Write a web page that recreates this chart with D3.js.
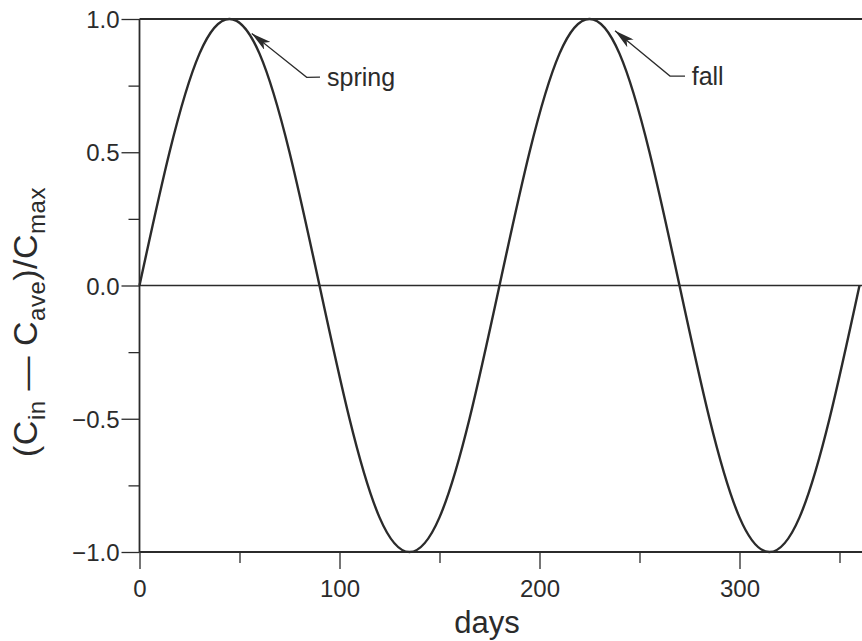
<!DOCTYPE html>
<html>
<head>
<meta charset="utf-8">
<script src="https://cdn.jsdelivr.net/npm/d3@7"></script>
<style>
  html, body { margin: 0; padding: 0; background: #fff; }
  svg { display: block; }
  text { font-family: "Liberation Sans", Arial, Helvetica, sans-serif; fill: #2b2b2b; }
</style>
</head>
<body>
<svg id="chart" width="862" height="641"></svg>
<script>
// ---- data ----
const days = [0, 15, 30, 45, 60, 75, 90, 105, 120, 135, 150, 165, 180,
              195, 210, 225, 240, 255, 270, 285, 300, 315, 330, 345, 360];
const values = [0, 0.5, 0.87, 1.0, 0.87, 0.5, 0, -0.5, -0.87, -1.0, -0.87, -0.5, 0,
                0.5, 0.87, 1.0, 0.87, 0.5, 0, -0.5, -0.87, -1.0, -0.87, -0.5, 0];
const xMajorTicks = [0, 100, 200, 300];
const xMinorTicks = [50, 150, 250, 350];
const yMajorTicks = [-1.0, -0.5, 0.0, 0.5, 1.0];
const yMinorTicks = [-0.75, -0.25, 0.25, 0.75];
const annLabels = ["spring", "fall"];
const annTip = [[56.1, 0.946], [237.75, 0.956]];
const annElbow = [[83.6, 0.781], [265.25, 0.786]];
const annEnd = [[90.25, 0.782], [272.75, 0.786]];
const annText = [[93.75, 0.749], [276.1, 0.752]];

// ---- layout ----
const svg = d3.select("#chart");
const W = 862, H = 641;
const mLeft = 139.5, mRight = 862, mTop = 19, mBottom = 552;
const x = d3.scaleLinear().domain([0, 361.25]).range([mLeft, mRight]);
const y = d3.scaleLinear().domain([-1, 1]).range([mBottom, mTop]);
const ink = "#2b2b2b";

svg.append("rect").attr("width", W).attr("height", H).attr("fill", "#fff");

// axes
const xMajor = d3.axisBottom(x).tickValues(xMajorTicks).tickSize(17).tickPadding(11)
  .tickFormat(d3.format("d"));
const xMinor = d3.axisBottom(x).tickValues(xMinorTicks).tickSize(11).tickFormat("");
const yMajor = d3.axisLeft(y).tickValues(yMajorTicks).tickSize(18).tickPadding(2)
  .tickFormat(d => d < 0 ? "\u2212" + d3.format(".1f")(-d) : d3.format(".1f")(d));
const yMinor = d3.axisLeft(y).tickValues(yMinorTicks).tickSize(11).tickFormat("");

function styleAxis(g) {
  g.select(".domain").remove();
  g.selectAll(".tick line").attr("stroke", ink).attr("stroke-width", 1.3);
  g.selectAll(".tick text").attr("fill", ink).style("font-size", "24px")
    .style("font-family", "'Liberation Sans', Arial, sans-serif");
}
svg.append("g").attr("transform", `translate(0,${mBottom})`).call(xMajor).call(styleAxis);
svg.append("g").attr("transform", `translate(0,${mBottom})`).call(xMinor).call(styleAxis);
svg.append("g").attr("transform", `translate(${mLeft},0)`).call(yMajor).call(styleAxis)
  .selectAll(".tick text").attr("dy", "0.36em");
svg.append("g").attr("transform", `translate(${mLeft},0)`).call(yMinor).call(styleAxis);

// frame lines: left, bottom, top, zero line
svg.append("line").attr("x1", mLeft).attr("x2", mLeft).attr("y1", mTop).attr("y2", mBottom)
  .attr("stroke", ink).attr("stroke-width", 1.8);
svg.append("line").attr("x1", mLeft).attr("x2", mRight).attr("y1", mBottom).attr("y2", mBottom)
  .attr("stroke", ink).attr("stroke-width", 1.8);
svg.append("line").attr("x1", mLeft).attr("x2", mRight).attr("y1", mTop).attr("y2", mTop)
  .attr("stroke", ink).attr("stroke-width", 1.8);
svg.append("line").attr("x1", mLeft).attr("x2", mRight).attr("y1", y(0)).attr("y2", y(0))
  .attr("stroke", ink).attr("stroke-width", 1.3);

// curve
const pts = days.map((d, i) => [d, values[i]]);
const line = d3.line().x(d => x(d[0])).y(d => y(d[1])).curve(d3.curveNatural);
svg.append("path").datum(pts).attr("d", line).attr("fill", "none")
  .attr("stroke", ink).attr("stroke-width", 2.4);

// annotations
const defs = svg.append("defs");
defs.append("marker").attr("id", "arrow").attr("viewBox", "0 0 20 10")
  .attr("refX", 20).attr("refY", 5).attr("markerWidth", 20).attr("markerHeight", 10)
  .attr("markerUnits", "userSpaceOnUse").attr("orient", "auto-start-reverse")
  .append("path").attr("d", "M0,0 L20,5 L0,10 L5,5 Z").attr("fill", ink);

annLabels.forEach((lab, i) => {
  const p = [annEnd[i], annElbow[i], annTip[i]].map(q => [x(q[0]), y(q[1])]);
  svg.append("path").attr("d", d3.line()(p)).attr("fill", "none")
    .attr("stroke", ink).attr("stroke-width", 1.3).attr("marker-end", "url(#arrow)");
  svg.append("text").attr("x", x(annText[i][0])).attr("y", y(annText[i][1]))
    .style("font-size", "25px").text(lab);
});

// axis titles
svg.append("text").attr("x", 487).attr("y", 633).attr("text-anchor", "middle")
  .style("font-size", "31px").text("days");

const yt = svg.append("text").attr("transform", "translate(37,322) rotate(-90)")
  .attr("text-anchor", "middle").style("font-size", "34px").style("letter-spacing", "0.5px");
yt.append("tspan").text("(C");
yt.append("tspan").attr("dy", 8).style("font-size", "24px").text("in");
yt.append("tspan").attr("dy", -8).text(" \u2014 C");
yt.append("tspan").attr("dy", 8).style("font-size", "24px").text("ave");
yt.append("tspan").attr("dy", -8).text(")/C");
yt.append("tspan").attr("dy", 8).style("font-size", "24px").text("max");
</script>
</body>
</html>
